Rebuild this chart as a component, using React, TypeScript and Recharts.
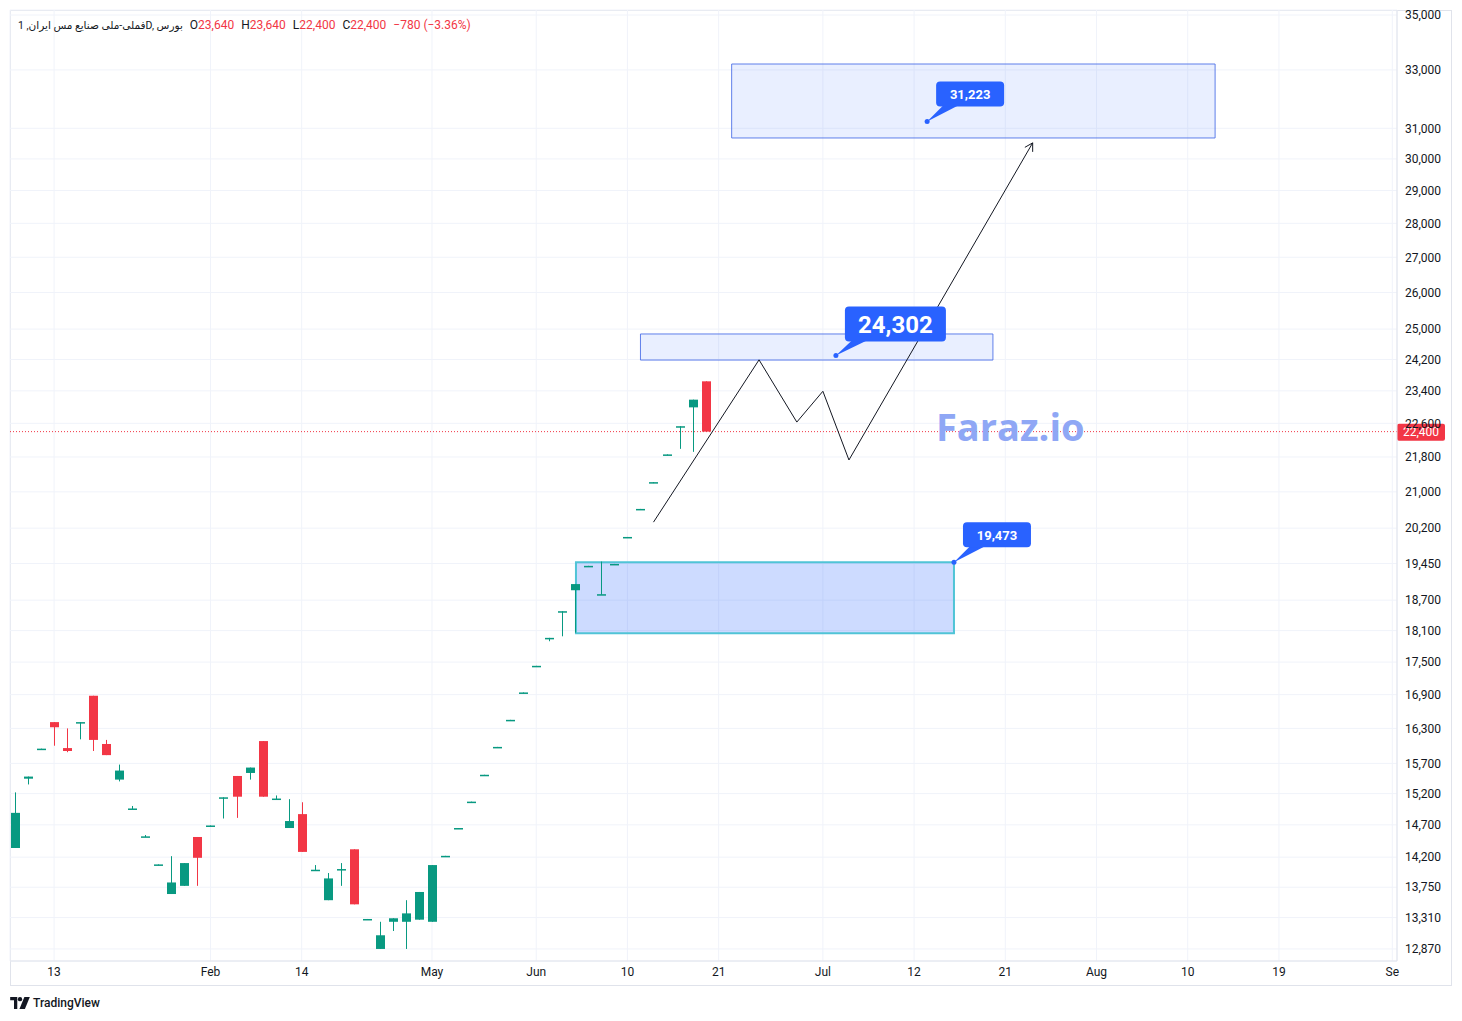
import React from "react";
import {
  Bar,
  ComposedChart,
  CartesianGrid,
  Line,
  ReferenceArea,
  ReferenceDot,
  ReferenceLine,
  XAxis,
  YAxis,
} from "recharts";

// daily candles, index = bar number on the time axis
const opens = [
  14340, 15445, 15940, 16410, 15960, 16390, 16880, 16030, 15430, 14950,
  14510, 14080, 13650, 13770, 14510, 14680, 15130, 15490, 15540, 16080,
  15110, 14650, 14870, 14000, 13560, 14010, 14320, 13280, 12870, 13250,
  13250, 13280, 13250, 14210, 14640, 15060, 15500, 15970, 16440, 16930,
  17420, 17950, 18460, 18900, 19390, 18810, 19430, 20000, 20610, 21210,
  21850, 22510, 22990, 23640,
];
const highs = [
  15220, 15480, 15950, 16410, 16300, 16410, 16880, 16100, 15680, 15000,
  14540, 14090, 14215, 14110, 14510, 14690, 15140, 15490, 15630, 16080,
  15170, 15110, 15060, 14080, 13960, 14110, 14320, 13290, 13250, 13300,
  13560, 13680, 14080, 14220, 14650, 15070, 15510, 15980, 16450, 16940,
  17430, 17960, 18480, 19025, 19400, 19490, 19440, 20010, 20620, 21220,
  21860, 22530, 23180, 23640,
];
const lows = [
  14340, 15350, 15940, 16000, 15890, 16110, 15910, 15840, 15400, 14950,
  14510, 14080, 13650, 13770, 13770, 14680, 14800, 14810, 15430, 15150,
  15110, 14650, 14280, 14000, 13560, 13770, 13500, 13280, 12870, 13120,
  12870, 13280, 13250, 14210, 14640, 15060, 15500, 15970, 16440, 16930,
  17420, 17895, 17990, 18060, 19390, 18810, 19430, 20000, 20610, 21210,
  21850, 21990, 21920, 22400,
];
const closes = [
  14890, 15480, 15950, 16320, 15910, 16410, 16100, 15840, 15580, 14960,
  14520, 14090, 13820, 14110, 14190, 14690, 15140, 15150, 15630, 15150,
  15120, 14760, 14280, 14010, 13880, 14020, 13500, 13290, 13060, 13300,
  13370, 13680, 14080, 14220, 14650, 15070, 15510, 15980, 16450, 16940,
  17430, 17960, 18480, 19025, 19400, 18820, 19440, 20010, 20620, 21220,
  21860, 22530, 23180, 22400,
];

const priceTicks = [
  12870, 13310, 13750, 14200, 14700, 15200, 15700, 16300, 16900, 17500,
  18100, 18700, 19450, 20200, 21000, 21800, 22600, 23400, 24200, 25000,
  26000, 27000, 28000, 29000, 30000, 31000, 33000, 35000,
];
const timeTicks = [3, 15, 22, 32, 40, 47, 54, 62, 69, 76, 83, 90, 97, 105.7];
const timeLabels = ["13", "Feb", "14", "May", "Jun", "10", "21", "Jul", "12", "21", "Aug", "10", "19", "Se"];

// drawn projection path
const pathX = [49, 57.1, 60, 62, 64, 78.1];
const pathV = [20330, 24190, 22630, 23390, 21730, 30520];

const lastPrice = 22400;

const GREEN = "#089981";
const RED = "#f23645";
const BLUE = "#2962ff";

const candles = opens.map((o, i) => ({
  x: i,
  o,
  h: highs[i],
  l: lows[i],
  c: closes[i],
}));
const pathData = pathX.map((x, i) => ({ x, p: pathV[i] }));

const fmt = (v: number) => v.toLocaleString("en-US");

const Candle = (props: any) => {
  const { x, y, width, height, payload } = props;
  if (!payload) return null;
  const { o, h, l, c } = payload;
  const span = Math.log(h) - Math.log(l);
  const py = (v: number) => (span > 0 ? y + (height * (Math.log(h) - Math.log(v))) / span : y);
  const color = c >= o ? GREEN : RED;
  const cx = Math.round(x + width / 2) + 0.5;
  const top = Math.min(py(o), py(c));
  const bh = Math.max(Math.abs(py(o) - py(c)), 1.5);
  return (
    <g>
      <line x1={cx} x2={cx} y1={y} y2={y + Math.max(height, 1)} stroke={color} strokeWidth={1} />
      <rect x={cx - 4.5} y={top} width={9} height={bh} fill={color} />
    </g>
  );
};

const Arrow = (props: any) => {
  const { cx, cy, index, points } = props;
  if (index !== pathX.length - 1 || cx == null) return <g key={`d${index}`} />;
  let dx = 184;
  let dy = -317;
  if (points && points[index - 1]) {
    dx = cx - points[index - 1].x;
    dy = cy - points[index - 1].y;
  }
  const len = Math.hypot(dx, dy) || 1;
  const ux = dx / len;
  const uy = dy / len;
  const a = (30 * Math.PI) / 180;
  const L = 9;
  const w1 = [cx - L * (ux * Math.cos(a) - uy * Math.sin(a)), cy - L * (ux * Math.sin(a) + uy * Math.cos(a))];
  const w2 = [cx - L * (ux * Math.cos(a) + uy * Math.sin(a)), cy - L * (-ux * Math.sin(a) + uy * Math.cos(a))];
  return (
    <g key={`d${index}`}>
      <line x1={cx} y1={cy} x2={w1[0]} y2={w1[1]} stroke="#131722" strokeWidth={1} />
      <line x1={cx} y1={cy} x2={w2[0]} y2={w2[1]} stroke="#131722" strokeWidth={1} />
    </g>
  );
};

const Callout = ({ cx, cy, text, big }: any) => {
  if (cx == null) return null;
  const w = big ? 101 : 68;
  const h = big ? 35 : 25;
  const bx = cx + 9;
  const by = cy - (big ? 49 : 40);
  return (
    <g>
      <polygon
        points={`${cx},${cy} ${bx + 8},${by + h - 2} ${bx + 24},${by + h - 2}`}
        fill={BLUE}
      />
      <circle cx={cx} cy={cy} r={2.5} fill={BLUE} />
      <rect x={bx} y={by} width={w} height={h} rx={4} fill={BLUE} />
      <text
        x={bx + w / 2}
        y={by + h / 2}
        dy="0.36em"
        textAnchor="middle"
        fill="#ffffff"
        fontWeight={700}
        fontSize={big ? 24 : 13}
        fontFamily="Roboto, sans-serif"
      >
        {text}
      </text>
    </g>
  );
};

const PriceTag = (props: any) => {
  const vb = props.viewBox || {};
  const x = (vb.x || 0) + (vb.width || 0);
  const y = vb.y || 0;
  return (
    <g>
      <rect x={x} y={y - 8} width={48} height={17} rx={2} fill={RED} />
      <text x={x + 24} y={y} dy="0.36em" textAnchor="middle" fill="#fff" fontSize={12}>
        {fmt(lastPrice)}
      </text>
    </g>
  );
};

const Logo = () => (
  <svg width={20} height={12} viewBox="0 0 36 22">
    <path d="M0 0h13v22H7V6H0z" fill="#131722" />
    <circle cx={18} cy={4} r={4} fill="#131722" />
    <path d="M26 0h10l-9 22H17z" fill="#131722" />
  </svg>
);

export default function App() {
  return (
    <div
      style={{
        position: "absolute",
        left: 0,
        top: 0,
        width: 1462,
        height: 1021,
        background: "#fff",
        fontFamily: "Roboto, 'DejaVu Sans', sans-serif",
        color: "#131722",
      }}
    >
      <div
        style={{
          position: "absolute",
          left: 10,
          top: 10,
          width: 1442,
          height: 976,
          boxSizing: "border-box",
          border: "1px solid #e0e3eb",
        }}
      />
      <ComposedChart
        width={1462}
        height={1021}
        data={candles}
        margin={{ top: 10, right: 10, bottom: 35, left: 10 }}
        style={{ position: "absolute", left: 0, top: 0, fontFamily: "Roboto, sans-serif" }}
      >
        <CartesianGrid stroke="#f0f3fa" />
        <XAxis
          dataKey="x"
          type="number"
          domain={[-0.384, 106.06]}
          allowDataOverflow
          ticks={timeTicks}
          interval={0}
          tickFormatter={(v: number) => timeLabels[timeTicks.indexOf(v)] ?? ""}
          tickLine={false}
          tickSize={4}
          axisLine={{ stroke: "#e0e3eb" }}
          height={25}
          tick={{ fill: "#131722", fontSize: 12 }}
        />
        <YAxis
          orientation="right"
          scale="log"
          domain={[12705, 35188]}
          allowDataOverflow
          ticks={priceTicks}
          interval={0}
          tickFormatter={fmt}
          tickLine={false}
          axisLine={{ stroke: "#e0e3eb" }}
          width={55}
          tick={{ fill: "#131722", fontSize: 12 }}
        />
        <ReferenceArea
          x1={55}
          x2={92.1}
          y1={30680}
          y2={33210}
          fill={BLUE}
          fillOpacity={0.1}
          stroke="#4f72e8"
          strokeOpacity={0.9}
          ifOverflow="visible"
        />
        <ReferenceArea
          x1={48}
          x2={75.05}
          y1={24185}
          y2={24870}
          fill={BLUE}
          fillOpacity={0.1}
          stroke="#4f72e8"
          strokeOpacity={0.9}
          ifOverflow="visible"
        />
        <ReferenceArea
          x1={43.05}
          x2={72.06}
          y1={18050}
          y2={19473}
          fill={BLUE}
          fillOpacity={0.23}
          stroke="#50c4d6"
          strokeWidth={2}
          ifOverflow="visible"
        />
        <ReferenceLine
          y={lastPrice}
          stroke={RED}
          strokeDasharray="1 2"
          label={<PriceTag />}
        />
        <Bar
          dataKey={(d: any) => [d.l, d.h]}
          barSize={9}
          shape={<Candle />}
          isAnimationActive={false}
        />
        <Line
          data={pathData}
          dataKey="p"
          type="linear"
          stroke="#131722"
          strokeWidth={1}
          dot={Arrow}
          activeDot={false}
          isAnimationActive={false}
        />
        <ReferenceDot x={70} y={31223} ifOverflow="visible" shape={(p: any) => <Callout {...p} text="31,223" />} />
        <ReferenceDot x={63} y={24302} ifOverflow="visible" shape={(p: any) => <Callout {...p} text="24,302" big />} />
        <ReferenceDot x={72.06} y={19473} ifOverflow="visible" shape={(p: any) => <Callout {...p} text="19,473" />} />
      </ComposedChart>
      <div
        style={{
          position: "absolute",
          left: 936,
          top: 400,
          fontSize: 38,
          fontWeight: 700,
          color: "#8fa7f5",
          fontFamily: "'Open Sans', sans-serif",
          pointerEvents: "none",
        }}
      >
        Faraz.io
      </div>
      <div
        style={{
          position: "absolute",
          left: 18,
          top: 17,
          fontSize: 12,
          lineHeight: "16px",
          whiteSpace: "nowrap",
          display: "flex",
          alignItems: "baseline",
          gap: 7,
        }}
      >
        <span style={{ fontSize: 10.5 }}>فملی-ملی صنایع مس ایران, 1D, بورس</span>
        <span>
          O<span style={{ color: RED }}>23,640</span>
        </span>
        <span>
          H<span style={{ color: RED }}>23,640</span>
        </span>
        <span>
          L<span style={{ color: RED }}>22,400</span>
        </span>
        <span>
          C<span style={{ color: RED }}>22,400</span>
        </span>
        <span style={{ color: RED }}>−780 (−3.36%)</span>
      </div>
      <div
        style={{
          position: "absolute",
          left: 10,
          top: 996,
          display: "flex",
          alignItems: "center",
          gap: 3,
          fontSize: 12,
          fontWeight: 500,
        }}
      >
        <Logo />
        <span>TradingView</span>
      </div>
    </div>
  );
}
